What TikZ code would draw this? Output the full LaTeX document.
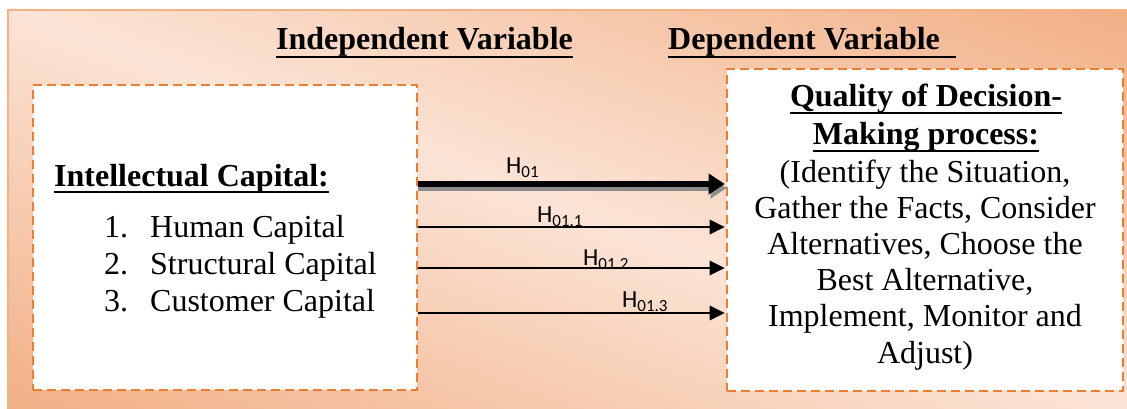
\documentclass[tikz,border=0pt]{standalone}
\usepackage{fontspec}
\setmainfont{Liberation Serif}
\newfontfamily\lblfont{Carlito}
\usetikzlibrary{arrows.meta}
\definecolor{dashor}{HTML}{ED7D31}
\definecolor{bglight}{HTML}{FBE4D6}
\definecolor{bgdark}{HTML}{F2AF85}
\definecolor{framecol}{HTML}{F4B183}
\newcommand\hsub[1]{H\raisebox{-4pt}{\fontsize{17}{17}\selectfont #1}}
\begin{document}
\begin{tikzpicture}[x=1pt,y=-1pt,
 box/.style={draw=dashor, line width=2.6pt, dash pattern=on 9pt off 5pt, fill=white, inner sep=0pt},
 txt/.style={font=\fontsize{32}{36.2}\selectfont, inner sep=0pt},
 btxt/.style={font=\fontsize{32}{36.6}\selectfont\bfseries, inner sep=0pt},
 ul/.style={line width=2.8pt},
 lbl/.style={font=\lblfont\fontsize{24.5}{24.5}\selectfont, inner sep=0pt, anchor=base west},
 arr/.style={line width=2.8pt, shorten >=1pt, -{Triangle[length=15pt,width=14pt]}},
 thickarr/.style={line width=5.5pt, shorten >=1pt, -{Triangle[length=16pt,width=20pt]}},
 shadowarr/.style={line width=5.5pt, draw=black!45, fill=black!45, shorten >=1pt, -{Triangle[length=16pt,width=20pt]}},
]
\useasboundingbox (0,0) rectangle (1127,409);
\fill[white] (0,0) rectangle (1127,409);
\begin{scope}
\clip (8,10) rectangle (1127,409);
\begin{scope}[transform canvas={rotate around={-19.6:(567.5,209.5)}}]
\shade[top color=bgdark, bottom color=bgdark, middle color=bglight] (-200,-166.5) rectangle (1335,585.5);
\end{scope}
\end{scope}
\draw[framecol, line width=1.5pt] (1130,10) -- (8,10) -- (8,412);

% titles
\node[btxt, anchor=base west] (indep) at (276,50) {Independent Variable};
\draw[ul] ([yshift=-7pt]indep.base west) -- ([yshift=-7pt]indep.base east);
\node[btxt, anchor=base west] (dep) at (668,50) {Dependent Variable};
\draw[ul] ([yshift=-7pt]dep.base west) -- ([yshift=-7pt,xshift=16pt]dep.base east);

% boxes
\node[box, minimum width=384pt, minimum height=305pt] (lbox) at (225,237.5) {};
\node[box, minimum width=396pt, minimum height=322pt] (rbox) at (925,230) {};

% left box text
\node[btxt, anchor=base west] (ic) at (54,186) {Intellectual Capital:};
\draw[ul] ([yshift=-6pt]ic.base west) -- ([yshift=-6pt]ic.base east);
\node[txt, anchor=base west] (i1) at (104,237) {\makebox[46pt][l]{1.}Human Capital};
\node[txt, anchor=base west] (i2) at (104,274) {\makebox[46pt][l]{2.}Structural Capital};
\node[txt, anchor=base west] (i3) at (104,311) {\makebox[46pt][l]{3.}Customer Capital};

% right box text
\node[btxt, anchor=base] (q1) at (926,107) {Quality of Decision-};
\draw[ul] ([yshift=-6pt]q1.base west) -- ([yshift=-6pt]q1.base east);
\node[btxt, anchor=base] (q2) at (926,145) {Making process:};
\draw[ul] ([yshift=-6pt]q2.base west) -- ([yshift=-6pt]q2.base east);
\node[txt, anchor=base, align=center] (q3) at (925,363) {(Identify the Situation,\\Gather the Facts, Consider\\Alternatives, Choose the\\Best Alternative,\\Implement, Monitor and\\Adjust)};

% labels
\node[lbl] (h0) at (506,173) {\hsub{01}};
\node[lbl] (h1) at (537,222) {\hsub{01.1}};
\node[lbl] (h2) at (583,265) {\hsub{01.2}};
\node[lbl] (h3) at (622,307) {\hsub{01.3}};

% arrows
\draw[shadowarr] (lbox.east |- 0,188) -- ([xshift=2pt]rbox.west |- 0,188);
\draw[thickarr] (lbox.east |- 0,184) -- (rbox.west |- 0,184);
\draw[arr] (lbox.east |- 0,227) -- (rbox.west |- 0,227);
\draw[arr] (lbox.east |- 0,268) -- (rbox.west |- 0,268);
\draw[arr] (lbox.east |- 0,313) -- (rbox.west |- 0,313);
\end{tikzpicture}
\end{document}
